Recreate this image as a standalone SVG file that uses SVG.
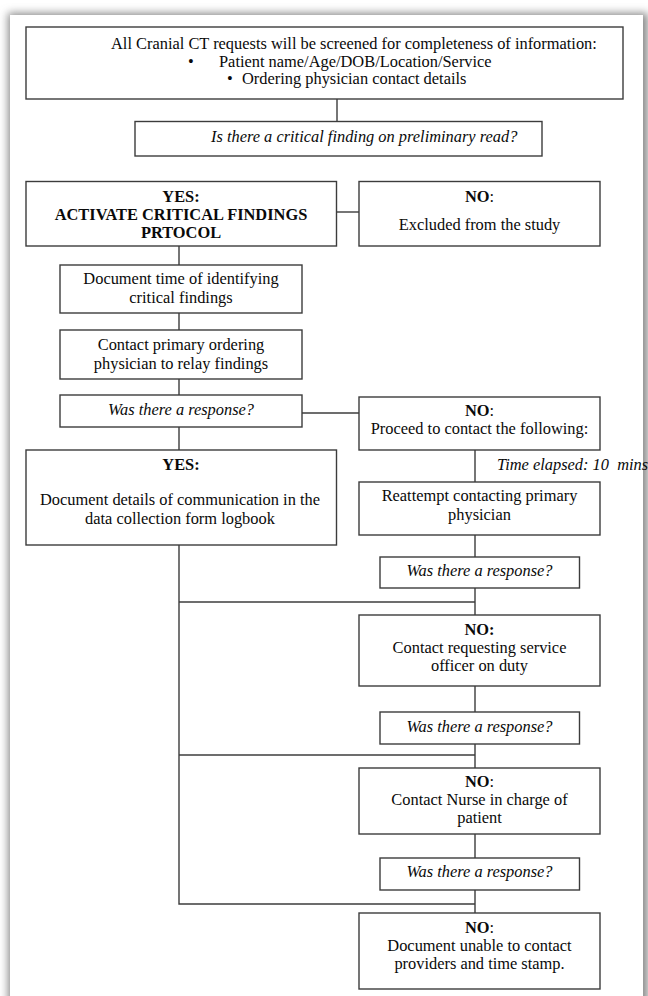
<svg xmlns="http://www.w3.org/2000/svg" width="648" height="996" viewBox="0 0 648 996">
<style>
.box{fill:#fff;stroke:#3c3c3c;stroke-width:1.4}
.ln{fill:none;stroke:#3c3c3c;stroke-width:1.4}
text{font-family:"Liberation Serif","Times New Roman",serif;font-size:16.4px;fill:#0a0a0a}
.c{text-anchor:middle}
.i{font-style:italic}
.b{font-weight:bold}
</style>
<defs>
<filter id="sh" x="-5%" y="-5%" width="110%" height="110%">
<feGaussianBlur stdDeviation="4"/>
</filter>
</defs>
<rect x="0" y="0" width="648" height="996" fill="#ffffff"/>
<rect x="8" y="13" width="640" height="1000" fill="#8a8a8a" filter="url(#sh)"/>
<rect x="10" y="15" width="633" height="990" fill="#ffffff"/>

<g id="connectors">
<path class="ln" d="M337 99V121.5"/>
<path class="ln" d="M336.5 212H359"/>
<path class="ln" d="M179 246V265"/>
<path class="ln" d="M179 313V330"/>
<path class="ln" d="M179 379V395"/>
<path class="ln" d="M302 413H359"/>
<path class="ln" d="M179 427V450"/>
<path class="ln" d="M475 450V482"/>
<path class="ln" d="M475 535V557"/>
<path class="ln" d="M475 588V615"/>
<path class="ln" d="M475 686V712"/>
<path class="ln" d="M475 744V768"/>
<path class="ln" d="M475 834V858"/>
<path class="ln" d="M475 890V913"/>
<path class="ln" d="M179 545V904H475"/>
<path class="ln" d="M179 602H475"/>
<path class="ln" d="M179 755H475"/>
<text class="i" x="497" y="470" xml:space="preserve">Time elapsed: 10  mins</text>
</g>

<g id="screen">
<rect class="box" x="26" y="27" width="597" height="72"/>
<text x="111" y="49">All Cranial CT requests will be screened for completeness of information:</text>
<text x="188" y="66.5">•</text>
<text x="219" y="66.5">Patient name/Age/DOB/Location/Service</text>
<text x="227" y="84">•</text>
<text x="242" y="84">Ordering physician contact details</text>
</g>

<g id="q-critical">
<rect class="box" x="135" y="121.5" width="407" height="34.5"/>
<text class="i" x="211" y="142">Is there a critical finding on preliminary read?</text>
</g>

<g id="yes-activate">
<rect class="box" x="26" y="181.5" width="310.5" height="64.5"/>
<text class="c b" x="181" y="202">YES:</text>
<text class="c b" x="181" y="220">ACTIVATE CRITICAL FINDINGS</text>
<text class="c b" x="181" y="238">PRTOCOL</text>
</g>

<g id="no-excluded">
<rect class="box" x="359" y="181.5" width="241" height="64.5"/>
<text class="c" x="479.5" y="202"><tspan class="b">NO</tspan>:</text>
<text class="c" x="479.5" y="230">Excluded from the study</text>
</g>

<g id="doc-time">
<rect class="box" x="60" y="265" width="242" height="48"/>
<text class="c" x="181" y="284">Document time of identifying</text>
<text class="c" x="181" y="302.5">critical findings</text>
</g>

<g id="contact-primary">
<rect class="box" x="60" y="330" width="242" height="49"/>
<text class="c" x="181" y="350">Contact primary ordering</text>
<text class="c" x="181" y="368.5">physician to relay findings</text>
</g>

<g id="q-response-1">
<rect class="box" x="60" y="395" width="242" height="32"/>
<text class="c i" x="181" y="415">Was there a response?</text>
</g>

<g id="no-proceed">
<rect class="box" x="359" y="397" width="241" height="53"/>
<text class="c" x="479.5" y="416"><tspan class="b">NO</tspan>:</text>
<text class="c" x="479.5" y="434">Proceed to contact the following:</text>
</g>

<g id="yes-document">
<rect class="box" x="26" y="450" width="310.5" height="95"/>
<text class="c b" x="181" y="470">YES:</text>
<text class="c" x="180" y="505">Document details of communication in the</text>
<text class="c" x="180" y="524">data collection form logbook</text>
</g>

<g id="reattempt">
<rect class="box" x="359" y="482" width="241" height="53"/>
<text class="c" x="479.5" y="501">Reattempt contacting primary</text>
<text class="c" x="479.5" y="519.5">physician</text>
</g>

<g id="q-response-2">
<rect class="box" x="380" y="557" width="199.5" height="31"/>
<text class="c i" x="479.5" y="576">Was there a response?</text>
</g>

<g id="no-service-officer">
<rect class="box" x="359" y="615" width="241" height="71"/>
<text class="c b" x="479.5" y="635">NO:</text>
<text class="c" x="479.5" y="653">Contact requesting service</text>
<text class="c" x="479.5" y="671">officer on duty</text>
</g>

<g id="q-response-3">
<rect class="box" x="380" y="712" width="199.5" height="32"/>
<text class="c i" x="479.5" y="731.5">Was there a response?</text>
</g>

<g id="no-nurse">
<rect class="box" x="359" y="768" width="241" height="66"/>
<text class="c" x="479.5" y="787"><tspan class="b">NO</tspan>:</text>
<text class="c" x="479.5" y="805">Contact Nurse in charge of</text>
<text class="c" x="479.5" y="823">patient</text>
</g>

<g id="q-response-4">
<rect class="box" x="380" y="858" width="199.5" height="32"/>
<text class="c i" x="479.5" y="877">Was there a response?</text>
</g>

<g id="no-unable">
<rect class="box" x="359" y="913" width="241" height="76"/>
<text class="c" x="479.5" y="933"><tspan class="b">NO</tspan>:</text>
<text class="c" x="479.5" y="951">Document unable to contact</text>
<text class="c" x="479.5" y="969">providers and time stamp.</text>
</g>
</svg>
